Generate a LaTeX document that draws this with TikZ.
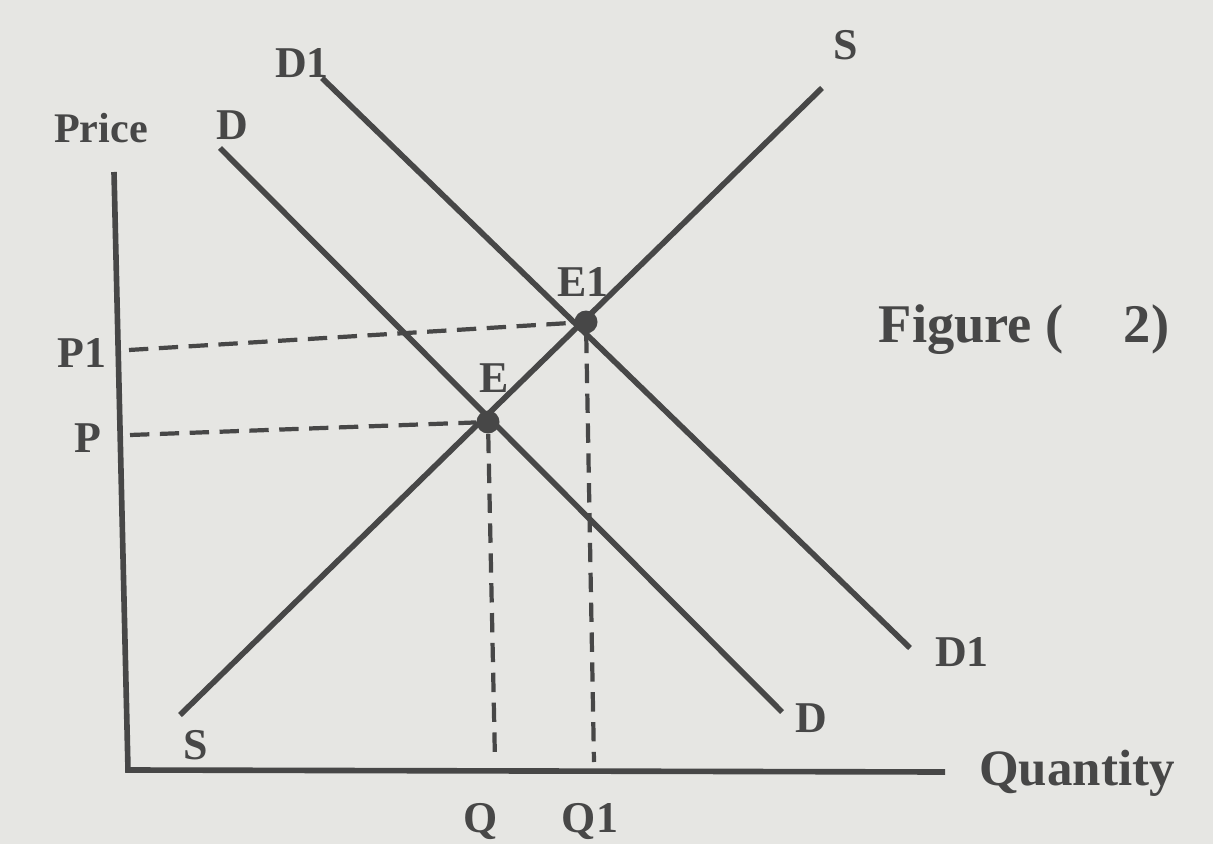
\documentclass[tikz,border=0pt]{standalone}
\usepackage{fontspec}
\setmainfont{Liberation Serif}
\usetikzlibrary{positioning}

\definecolor{paper}{HTML}{E6E6E3}
\definecolor{ink}{HTML}{474747}

\begin{document}
\begin{tikzpicture}[x=0.02cm, y=-0.02cm, every node/.style={text=ink, font=\fontsize{25}{28}\selectfont\bfseries}]
    % Define styles for the lines
    \tikzstyle{axis} = [draw=ink, line width=3.2pt]
    \tikzstyle{curve} = [draw=ink, line width=3.2pt]
    \tikzstyle{guide} = [draw=ink, line width=2.4pt, dash pattern=on 11pt off 6pt]
    \tikzstyle{point} = [circle, fill=ink, inner sep=0pt, minimum size=0.46cm]

    % Paper
    \fill[paper] (0,0) rectangle (1213,844);
    \useasboundingbox (0,0) rectangle (1213,844);

    % Axes
    \coordinate (top) at (114,172);
    \coordinate (origin) at (128,770);
    \coordinate (right) at (945,772);
    \draw [axis] (top) -- (origin) -- (right);

    % End points of the curves
    \coordinate (s0) at (180,715);
    \coordinate (s1) at (822,88);
    \coordinate (d0) at (220,148);
    \coordinate (d1) at (782,712);
    \coordinate (dd0) at (322,78);
    \coordinate (dd1) at (910,648);

    % Supply and demand
    \draw [curve] (s0) -- (s1);
    \draw [curve] (d0) -- (d1);
    \draw [curve] (dd0) -- (dd1);

    % Equilibria
    \node (e) [point] at (488,422) {};
    \node (e1) [point] at (586,322) {};

    % Axis labels
    \node (price) at (101,128) {\fontsize{24}{26}\selectfont Price};
    \node (quantity) at (1077,773) {\fontsize{29}{32}\selectfont Quantity};
    \node (plabel) at (88,438) {P};
    \node (p1label) at (82,353) {P1};
    \node (qlabel) at (481,822) {Q};
    \node (q1label) at (590,822) {Q1};

    % Guide lines
    \coordinate (pa) at (130,435);
    \coordinate (p1a) at (129,350);
    \coordinate (qa) at (495,762);
    \coordinate (q1a) at (594,762);
    \draw [guide] (pa) -- (e);
    \draw [guide] (p1a) -- (e1);
    \draw [guide] (e) -- (qa);
    \draw [guide] (e1) -- (q1a);

    % Curve labels
    \node (dtop) at (232,125) {D};
    \node (ddtop) at (302,63) {D1};
    \node (stop) at (846,45) {S};
    \node (sbot) at (196,745) {S};
    \node (dbot) at (811,718) {D};
    \node (ddbot) at (962,652) {D1};
    \node (elabel) at (494,378) {E};
    \node (e1label) at (583,282) {E1};

    % Caption
    \node (caption) at (1024,330) {\fontsize{31}{34}\selectfont Figure (\hspace{1.1em}2)};
\end{tikzpicture}
\end{document}
